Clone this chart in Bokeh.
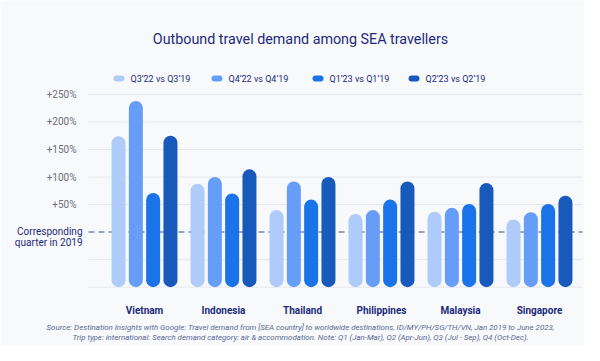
from bokeh.plotting import figure
from bokeh.models import FixedTicker, Label, BoxAnnotation, Range1d
from bokeh.embed import file_html
from bokeh.resources import INLINE

countries = ["Vietnam", "Indonesia", "Thailand", "Philippines", "Malaysia", "Singapore"]
series = ["Q3\u201922 vs Q3\u201919", "Q4\u201922 vs Q4\u201919", "Q1\u201923 vs Q1\u201919", "Q2\u201923 vs Q2\u201919"]
q3_22 = [174, 88, 40, 33, 37, 23]
q4_22 = [238, 100, 92, 40, 44, 36]
q1_23 = [71, 70, 59, 59, 51, 51]
q2_23 = [175, 114, 100, 92, 89, 66]
values = [q3_22, q4_22, q1_23, q2_23]
colors = ["#aecbfa", "#669df6", "#1a73e8", "#185abc"]
y_ticks = [50, 100, 150, 200, 250]
y_tick_labels = ["+50%", "+100%", "+150%", "+200%", "+250%"]
grid_ticks = [-100, -50, 50, 100, 150, 200, 250]
baseline_value = 0
baseline_label = ["Corresponding", "quarter in 2019"]
bar_floor = -100
title_text = "Outbound travel demand among SEA travellers"
footnote = [
    "Source: Destination Insights with Google: Travel demand from [SEA country] to worldwide destinations, ID/MY/PH/SG/TH/VN, Jan 2019 to June 2023,",
    "Trip type: international: Search demand category: air & accommodation. Note: Q1 (Jan-Mar), Q2 (Apr-Jun), Q3 (Jul - Sep), Q4 (Oct-Dec).",
]

BG = "#f8f9fb"
NAVY = "#1c2b7a"
FONT = "Roboto"

# layout helpers: canvas px -> data coords
GROUP_PX = 79.0
X0_PX = 144.0
PX_PER_PCT = 0.5506
Y0_PX = 231.6
W, H = 584, 345

def wx(px):
    return (px - X0_PX) / GROUP_PX

def wy(py):
    return (Y0_PX - py) / PX_PER_PCT

p = figure(width=W, height=H, output_backend="svg", toolbar_location=None,
           x_range=Range1d(wx(0), wx(W)), y_range=Range1d(wy(H), wy(0)),
           min_border_left=0, min_border_right=0, min_border_top=0, min_border_bottom=0)
p.title.visible = False
p.background_fill_color = BG
p.border_fill_color = BG
p.outline_line_color = None
p.xgrid.visible = False
p.ygrid.visible = False

# gridlines
p.segment(x0=wx(88), x1=wx(582), y0=grid_ticks, y1=grid_ticks,
          line_color="#e6e8ec", line_width=1)
p.segment(x0=wx(88), x1=wx(582), y0=baseline_value, y1=baseline_value,
          line_color="#7b86b8", line_width=1.5, line_dash="6 4")

# bars
offset = 17.3 / GROUP_PX
bw = 14.0 / GROUP_PX
for k, (vals, col) in enumerate(zip(values, colors)):
    xs = [i + (k - 1.5) * offset for i in range(len(countries))]
    p.vbar(x=xs, top=vals, bottom=bar_floor, width=bw, fill_color=col, line_color=None,
           border_radius=7)

# axes (drawn at fixed locations inside the canvas)
p.yaxis.fixed_location = wx(88)
p.yaxis.ticker = FixedTicker(ticks=y_ticks)
p.yaxis.major_label_overrides = {t: l for t, l in zip(y_ticks, y_tick_labels)}
p.yaxis.axis_line_color = None
p.yaxis.major_tick_line_color = None
p.yaxis.minor_tick_line_color = None
p.yaxis.major_label_text_color = "#6b6f76"
p.yaxis.major_label_text_font = FONT
p.yaxis.major_label_text_font_size = "10px"
p.yaxis.major_label_standoff = 6

p.xaxis.fixed_location = wy(290)
p.xaxis.ticker = FixedTicker(ticks=list(range(len(countries))))
p.xaxis.major_label_overrides = {i: c for i, c in enumerate(countries)}
p.xaxis.axis_line_color = None
p.xaxis.major_tick_line_color = None
p.xaxis.minor_tick_line_color = None
p.xaxis.major_label_text_color = NAVY
p.xaxis.major_label_text_font = FONT
p.xaxis.major_label_text_font_style = "bold"
p.xaxis.major_label_text_font_size = "10px"
p.xaxis.major_label_standoff = 8

# baseline label
for line, py in zip(baseline_label, [231, 242]):
    p.add_layout(Label(x=wx(82), y=wy(py), text=line, text_align="right",
                       text_baseline="middle", text_color=NAVY, text_font=FONT,
                       text_font_size="10px"))

# title
p.add_layout(Label(x=wx(300), y=wy(38), text=title_text, text_align="center",
                   text_baseline="middle", text_color=NAVY, text_font=FONT,
                   text_font_size="14.3px"))

# legend
sw_x = [113, 211, 312, 408]
for sx, name, col in zip(sw_x, series, colors):
    p.add_layout(BoxAnnotation(left=wx(sx), right=wx(sx + 11), bottom=wy(81), top=wy(75),
                               fill_color=col, fill_alpha=1, line_color=None,
                               border_radius=3))
    p.add_layout(Label(x=wx(sx + 17), y=wy(78), text=name, text_align="left",
                       text_baseline="middle", text_color=NAVY, text_font=FONT,
                       text_font_size="9px"))

# footnote
for line, py in zip(footnote, [327, 337]):
    p.add_layout(Label(x=wx(300), y=wy(py), text=line, text_align="center",
                       text_baseline="middle", text_color="#5a6894", text_font=FONT,
                       text_font_style="italic", text_font_size="7.9px"))

open("out.html", "w").write(file_html(p, INLINE))
